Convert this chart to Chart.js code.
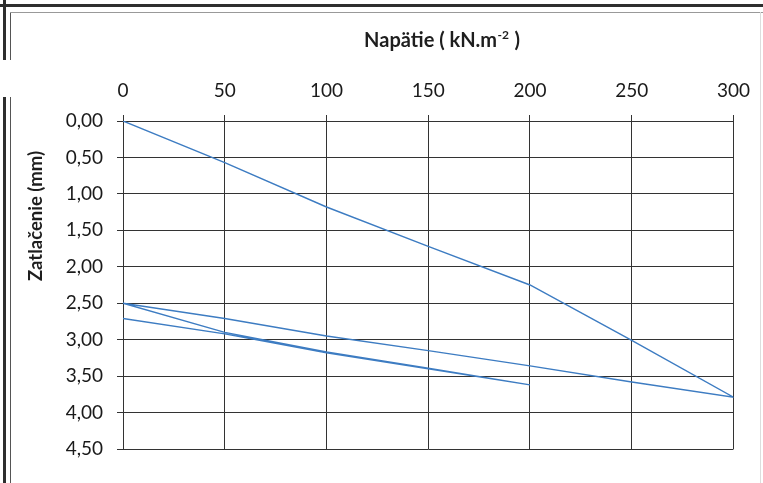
<!DOCTYPE html>
<html>
<head>
<meta charset="utf-8">
<script src="https://cdn.jsdelivr.net/npm/chart.js@4"></script>
<style>
  html, body { margin: 0; padding: 0; background: #fff; }
  #wrap { position: relative; width: 763px; height: 483px; overflow: hidden; background: #fff; }
  #c { position: absolute; left: 0; top: 0; }
  .ln { position: absolute; pointer-events: none; }
</style>
</head>
<body>
<div id="wrap">
  <canvas id="c" width="763" height="483"></canvas>
  <div class="ln" style="left:0;top:4px;width:763px;height:3px;background:#2e2e2e"></div>
  <div class="ln" style="left:3px;top:0;width:3px;height:60px;background:#2e2e2e"></div>
  <div class="ln" style="left:3px;top:97px;width:3px;height:386px;background:#2e2e2e"></div>
  <div class="ln" style="left:10px;top:12px;width:1px;height:48px;background:#555"></div>
  <div class="ln" style="left:10px;top:97px;width:1px;height:386px;background:#555"></div>
  <div class="ln" style="left:10px;top:12px;width:753px;height:1px;background:#999"></div>
  <div class="ln" style="left:760px;top:12px;width:1px;height:471px;background:#ddd"></div>
</div>
<script>
// Load (kN.m-2) and settlement (mm) — loading, unloading, reloading, unloading
const loadKPa = [0, 50, 100, 150, 200, 250, 300, 250, 200, 150, 100, 50, 0, 50, 100, 150, 200, 150, 100, 50, 0];
const settlementMm = [0.00, 0.57, 1.18, 1.72, 2.25, 3.01, 3.79, 3.58, 3.36, 3.15, 2.95, 2.71, 2.50, 2.90, 3.17, 3.39, 3.62, 3.40, 3.18, 2.92, 2.71];
const xTickValues = [0, 50, 100, 150, 200, 250, 300];
const yTickLabels = ['0,00', '0,50', '1,00', '1,50', '2,00', '2,50', '3,00', '3,50', '4,00', '4,50'];
const xTitle = 'Napätie ( kN.m';
const xTitleSup = '-2';
const xTitleEnd = ' )';
const yTitle = 'Zatlačenie (mm)';

const points = loadKPa.map((x, i) => ({ x: x, y: settlementMm[i] }));

const titlePlugin = {
  id: 'titles',
  afterDraw(chart) {
    const ctx = chart.ctx;
    ctx.save();
    ctx.fillStyle = '#1e1e1e';
    ctx.textBaseline = 'alphabetic';
    const f1 = 'bold 20px Lato';
    const f2 = 'bold 12px Lato';
    ctx.font = f1;
    const w1 = ctx.measureText(xTitle).width;
    const w3 = ctx.measureText(xTitleEnd).width;
    ctx.font = f2;
    const w2 = ctx.measureText(xTitleSup).width;
    const total = w1 + w2 + w3 + 1;
    const x0 = 442 - total / 2;
    ctx.textAlign = 'left';
    ctx.font = f1;
    ctx.fillText(xTitle, x0, 47);
    ctx.font = f2;
    ctx.fillText(xTitleSup, x0 + w1 + 0.5, 39);
    ctx.font = f1;
    ctx.fillText(xTitleEnd, x0 + w1 + w2 + 1, 47);
    // y title
    ctx.translate(36, 216);
    ctx.rotate(-Math.PI / 2);
    ctx.textAlign = 'center';
    ctx.textBaseline = 'middle';
    ctx.font = 'bold 18.5px Lato';
    ctx.fillText(yTitle, 0, 0);
    ctx.restore();
  }
};

new Chart(document.getElementById('c'), {
  type: 'scatter',
  data: {
    datasets: [{
      data: points,
      showLine: true,
      borderColor: '#3d7cc2',
      borderWidth: 1.4,
      pointRadius: 0,
      tension: 0,
      fill: false
    }]
  },
  options: {
    responsive: false,
    animation: false,
    devicePixelRatio: 1,
    layout: { padding: { left: 0, top: 0, right: 28, bottom: 34 } },
    plugins: { legend: { display: false }, tooltip: { enabled: false }, title: { display: false } },
    scales: {
      x: {
        type: 'linear',
        position: 'top',
        min: 0,
        max: 300,
        afterBuildTicks(scale) { scale.ticks = xTickValues.map(v => ({ value: v })); },
        afterFit(scale) { scale.height = 121; },
        ticks: {
          color: '#1a1a1a',
          font: { family: 'Lato', size: 19 },
          padding: 13,
          maxRotation: 0,
          callback: v => String(v)
        },
        grid: { color: '#333', lineWidth: 1, tickLength: 6, drawTicks: true },
        border: { display: true, color: '#333', width: 1 }
      },
      y: {
        type: 'linear',
        reverse: true,
        min: 0,
        max: 4.5,
        afterBuildTicks(scale) { scale.ticks = yTickLabels.map((l, i) => ({ value: i * 0.5 })); },
        afterFit(scale) { scale.width = 123; },
        ticks: {
          color: '#1a1a1a',
          font: { family: 'Lato', size: 19 },
          padding: 14,
          callback: (v, i) => yTickLabels[i]
        },
        grid: { color: '#333', lineWidth: 1, tickLength: 6, drawTicks: true },
        border: { display: true, color: '#333', width: 1 }
      }
    }
  },
  plugins: [titlePlugin]
});
</script>
</body>
</html>
